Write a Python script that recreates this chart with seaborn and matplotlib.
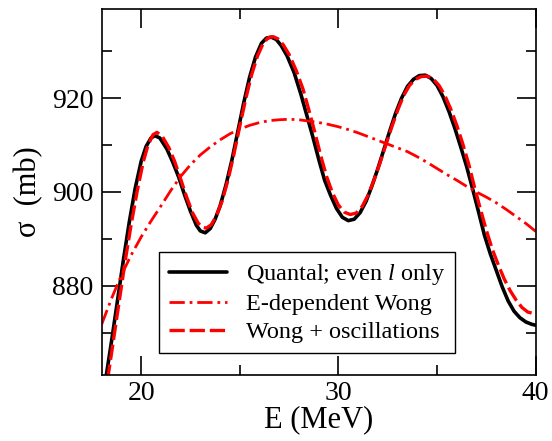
import matplotlib
matplotlib.use("Agg")
import matplotlib.pyplot as plt
import seaborn as sns
import pandas as pd
import numpy as np

# Quantal; even l only
e_quantal = [18.2, 18.5, 18.8, 19.1, 19.4, 19.7, 20.0, 20.25, 20.5, 20.7, 20.95, 21.3, 21.6, 21.9,
             22.2, 22.5, 22.8, 23.0, 23.25, 23.5, 23.75, 24.0, 24.3, 24.6, 24.95, 25.2, 25.5, 25.8,
             26.1, 26.35, 26.6, 26.85, 27.1, 27.4, 27.75, 28.1, 28.4, 28.7, 29.0, 29.3, 29.6, 29.9,
             30.2, 30.5, 30.8, 31.1, 31.4, 31.7, 32.0, 32.3, 32.6, 32.9, 33.2, 33.5, 33.8, 34.1,
             34.4, 34.7, 35.0, 35.3, 35.6, 35.9, 36.2, 36.5, 36.8, 37.1, 37.4, 37.7, 38.0, 38.3,
             38.6, 38.9, 39.2, 39.5, 39.8, 40.0]
s_quantal = [860.0, 868.2, 876.8, 885.5, 893.6, 900.8, 906.5, 909.7, 911.5, 912.0, 911.5, 909.2, 906.4, 903.2,
             899.4, 895.9, 892.9, 891.7, 891.3, 892.2, 894.2, 897.0, 901.5, 906.8, 913.9, 919.0, 924.5, 928.8,
             931.7, 932.8, 933.0, 932.5, 931.2, 929.0, 925.5, 920.8, 916.3, 911.8, 907.0, 902.5, 899.3, 896.5,
             894.6, 893.9, 894.2, 895.6, 898.0, 901.3, 905.0, 909.0, 913.0, 916.8, 920.0, 922.5, 924.0, 924.8,
             924.9, 924.2, 922.7, 920.3, 917.2, 913.6, 909.6, 905.4, 900.7, 895.8, 890.8, 886.8, 883.3, 879.8,
             876.8, 874.6, 873.2, 872.3, 871.8, 871.6]

# E-dependent Wong
e_wong = [18.0, 18.5, 19.0, 19.5, 20.0, 20.5, 21.0, 21.5, 22.0, 22.5, 23.0, 23.5, 24.0, 24.5, 25.0,
          25.5, 26.0, 26.5, 27.0, 27.5, 28.0, 28.5, 29.0, 29.5, 30.0, 30.5, 31.0, 31.5, 32.0, 32.5,
          33.0, 33.5, 34.0, 34.5, 35.0, 35.5, 36.0, 36.5, 37.0, 37.5, 38.0, 38.5, 39.0, 39.5, 40.0]
s_wong = [871.8, 877.3, 882.3, 886.6, 890.4, 893.8, 897.0, 900.3, 903.3, 905.8, 907.9, 909.6, 911.1, 912.4, 913.4,
          914.2, 914.8, 915.2, 915.4, 915.5, 915.4, 915.1, 914.8, 914.4, 913.9, 913.3, 912.6, 911.8, 911.0, 910.2,
          909.4, 908.6, 907.5, 906.3, 905.0, 903.7, 902.5, 901.2, 900.0, 898.9, 897.7, 896.3, 894.8, 893.3, 891.6]

# Wong + oscillations
e_osc = [18.3, 18.6, 18.9, 19.2, 19.5, 19.8, 20.1, 20.35, 20.6, 20.8, 21.05, 21.4, 21.7, 22.0, 22.3,
         22.6, 22.9, 23.1, 23.3, 23.55, 23.8, 24.1, 24.4, 24.7, 25.05, 25.3, 25.6, 25.9, 26.2, 26.45,
         26.7, 26.95, 27.2, 27.5, 27.85, 28.2, 28.5, 28.8, 29.1, 29.4, 29.7, 30.0, 30.3, 30.6, 30.9,
         31.2, 31.5, 31.8, 32.1, 32.4, 32.7, 33.0, 33.3, 33.6, 33.9, 34.2, 34.5, 34.8, 35.1, 35.4,
         35.7, 36.0, 36.3, 36.6, 36.9, 37.2, 37.5, 37.8, 38.1, 38.4, 38.7, 39.0, 39.3, 39.6, 40.0]
s_osc = [860.0, 868.5, 877.0, 885.5, 893.2, 900.2, 906.3, 910.0, 912.2, 912.7, 912.0, 909.5, 906.5, 902.8, 899.0,
         895.6, 893.3, 892.5, 892.3, 893.0, 894.8, 898.0, 902.5, 908.0, 915.0, 919.8, 925.0, 929.0, 931.8, 932.9,
         933.1, 932.6, 931.4, 929.3, 926.0, 922.0, 917.5, 912.8, 907.8, 903.3, 899.8, 897.2, 895.7, 895.2, 895.5,
         896.9, 899.3, 902.5, 906.1, 910.0, 913.8, 917.4, 920.5, 922.7, 924.0, 924.6, 924.7, 924.1, 922.7, 920.5,
         917.6, 914.2, 910.3, 906.0, 901.0, 896.3, 891.8, 887.8, 884.5, 881.5, 879.0, 877.0, 875.4, 874.4, 874.0]

sns.set_style("ticks")
plt.rcParams['font.family'] = ['Liberation Serif', 'DejaVu Serif']
plt.rcParams['mathtext.fontset'] = 'custom'
plt.rcParams['mathtext.rm'] = 'Liberation Serif'
plt.rcParams['mathtext.it'] = 'Liberation Serif:italic'
plt.rcParams['lines.scale_dashes'] = False
for key in ['text.color', 'axes.labelcolor', 'xtick.color', 'ytick.color', 'axes.edgecolor']:
    plt.rcParams[key] = 'black'

fig = plt.figure(figsize=(5.52, 4.41), dpi=100)
ax = fig.add_axes([0.1842, 0.1497, 0.7863, 0.8299])

sns.lineplot(x=e_quantal, y=s_quantal, ax=ax, color='black', lw=2.6, label='Quantal; even $l$ only')
sns.lineplot(x=e_wong, y=s_wong, ax=ax, color='red', lw=2.0, label='E-dependent Wong')
ax.lines[-1].set_dashes((11, 3.5, 2, 3.5))
sns.lineplot(x=e_osc, y=s_osc, ax=ax, color='red', lw=2.4, label='Wong + oscillations')
ax.lines[-1].set_dashes((11, 3.5))

ax.set_xlim(18, 40)
ax.set_ylim(861, 939)
ax.set_xticks([20, 30, 40])
ax.set_xticks([25, 35], minor=True)
ax.set_yticks([880, 900, 920])
ax.set_yticks([870, 890, 910, 930], minor=True)

ax.tick_params(which='both', direction='in', top=True, right=True, width=1.2, color='black')
ax.tick_params(which='major', length=13.5, labelsize=20)
ax.tick_params(which='minor', length=7)
ax.tick_params(axis='x', which='major', pad=4)
ax.tick_params(axis='y', which='major', pad=6)
for sp in ax.spines.values():
    sp.set_visible(True)
    sp.set_linewidth(1.2)
    sp.set_color('black')

ax.set_xlabel('E (MeV)', fontsize=22, labelpad=0)
ax.set_ylabel('σ  (mb)', fontsize=22, labelpad=6)

leg = ax.legend(loc='lower left', bbox_to_anchor=(0.132, 0.06), fontsize=17.5, frameon=True,
                fancybox=False, edgecolor='black', framealpha=1, borderpad=0.4,
                labelspacing=0.25, handlelength=2.4, handletextpad=0.8, borderaxespad=0)
leg.get_frame().set_linewidth(1.0)

fig.savefig('out.png', dpi=100)
